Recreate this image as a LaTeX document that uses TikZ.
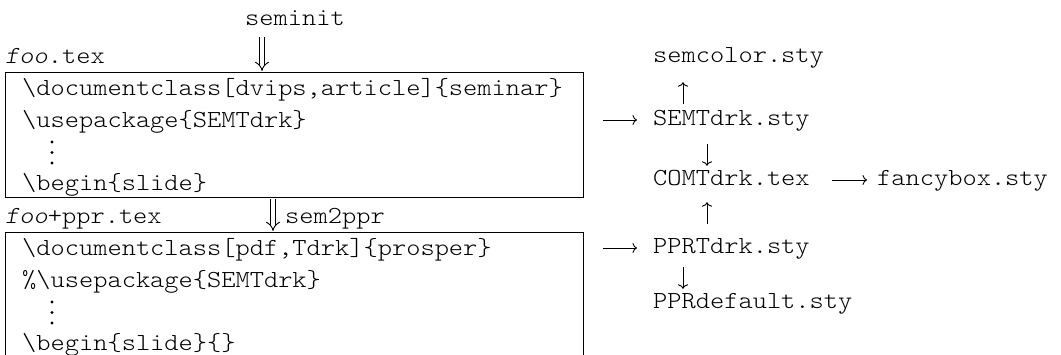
\documentclass[tikz,border=0pt]{standalone}
\usepackage{fontspec}
\setmonofont{lmmonolt10-regular.otf}[FakeStretch=1.106,
  ItalicFont=lmmonolt10-oblique.otf]
\usetikzlibrary{arrows.meta}
\begin{document}
\begin{tikzpicture}[x=1pt,y=-1pt,
  txt/.style={font=\fontsize{24.5}{28}\selectfont\ttfamily, inner sep=0pt,
    text height=17pt, text depth=5pt, anchor=base west},
  frame/.style={draw, line width=1.1pt, inner sep=0pt, anchor=north west,
    minimum width=578pt},
  arr/.style={line width=0.9pt,
    -{Computer Modern Rightarrow[length=4.5pt,width=10pt]}},
  dbl/.style={double, double distance=4pt, line width=0.9pt, -{Implies[scale=1.3]}},
  vdot/.style={fill, circle, inner sep=0pt, minimum size=3.2pt}]
\useasboundingbox (0,0) rectangle (1061,355);

% the two source files
\node[frame, minimum height=125pt] (box1) at (5,72) {};
\node[frame, minimum height=160pt] (box2) at (5,232) {};

\node[txt] (seminit) at (245,26) {seminit};
\node[txt] (footex) at (5,64) {\textit{foo}.tex};
\node[txt] (l11) at (22,96) {\textbackslash documentclass[dvips,article]\{seminar\}};
\node[txt] (l12) at (22,128) {\textbackslash usepackage\{SEMTdrk\}};
\node[vdot] (d11) at (52,142) {};
\node[vdot] (d12) at (52,152.5) {};
\node[vdot] (d13) at (52,163) {};
\node[txt] (l14) at (22,191) {\textbackslash begin\{slide\}};

\node[txt] (pprtex) at (5,224) {\textit{foo}+ppr.tex};
\node[txt] (sem2ppr) at (285,224) {sem2ppr};
\node[txt] (l21) at (22,256) {\textbackslash documentclass[pdf,Tdrk]\{prosper\}};
\node[txt] (l22) at (22,288) {\%\textbackslash usepackage\{SEMTdrk\}};
\node[vdot] (d21) at (52,302) {};
\node[vdot] (d22) at (52,312.5) {};
\node[vdot] (d23) at (52,323) {};
\node[txt] (l24) at (22,351) {\textbackslash begin\{slide\}\{\}};

% style files pulled in
\node[txt] (semcolor) at (653,63) {semcolor.sty};
\node[txt] (semtdrk) at (653,126) {SEMTdrk.sty};
\node[txt] (comtdrk) at (653,186) {COMTdrk.tex};
\node[txt] (fancybox) at (877,186) {fancybox.sty};
\node[txt] (pprtdrk) at (653,254) {PPRTdrk.sty};
\node[txt] (pprdef) at (653,309) {PPRdefault.sty};

% conversions
\draw[dbl, shorten <=6pt, shorten >=1pt]
  ([xshift=17pt]seminit.south west) -- ([xshift=17pt]seminit.south west |- box1.north);
\draw[dbl, shorten <=1pt, shorten >=1pt]
  ([xshift=-12pt]sem2ppr.west |- box1.south) -- ([xshift=-12pt]sem2ppr.west |- box2.north);

% dependencies
\draw[arr, shorten <=19pt, shorten >=16pt] (box1.east |- 0,120) -- (semtdrk.west |- 0,120);
\draw[arr, shorten <=19pt, shorten >=16pt] (box2.east |- 0,248) -- (pprtdrk.west |- 0,248);
\draw[arr, shorten <=22.6pt, shorten >=10pt] (comtdrk.east |- 0,180) -- (fancybox.west |- 0,180);
\draw[arr, shorten <=5pt, shorten >=14pt] ([xshift=30pt]semtdrk.north west) -- ([xshift=30pt]semcolor.south west);
\draw[arr, shorten <=13pt, shorten >=3pt] ([xshift=54pt]semtdrk.south west) -- ([xshift=54pt]comtdrk.north west);
\draw[arr, shorten <=13pt, shorten >=11pt] ([xshift=54pt]pprtdrk.north west) -- ([xshift=54pt]comtdrk.south west);
\draw[arr, shorten <=8pt, shorten >=3pt] ([xshift=30pt]pprtdrk.south west) -- ([xshift=30pt]pprdef.north west);
\end{tikzpicture}
\end{document}
